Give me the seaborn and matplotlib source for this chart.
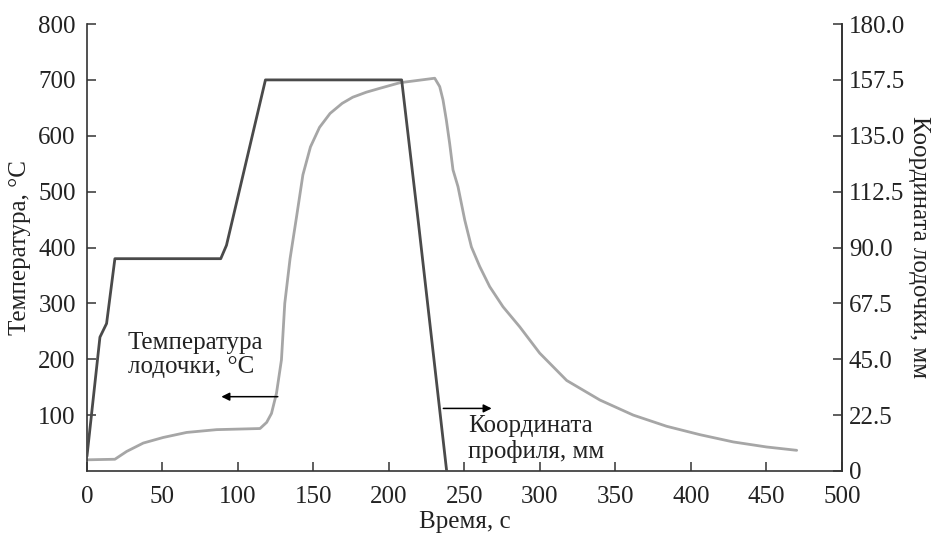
import numpy as np
import pandas as pd
import matplotlib
matplotlib.use("Agg")
import matplotlib.pyplot as plt
import seaborn as sns
from matplotlib.ticker import FuncFormatter

# Temperature of the boat (left axis, °C)
temp_t = [0, 18.5, 26.3, 37.3, 50.5, 66, 85.9, 114.6, 119, 122.2, 125.5, 128.8, 131,
          134.5, 138.8, 143, 148, 154, 161, 169, 176, 185, 194, 207.3, 230.3, 233.6,
          235.8, 238, 240.2, 242.4, 245.7, 250.2, 254.6, 260.1, 266.7, 275.5, 286.6,
          299.8, 317.7, 339.7, 361.8, 383.9, 405.9, 428, 450, 470]
temp_v = [20, 21, 35, 50, 60, 69, 74, 76, 87, 103, 139, 199, 300,
          380, 455, 530, 580, 615, 640, 658, 669, 678, 685, 695, 703, 688,
          664, 628, 586, 539, 509, 449, 401, 366, 330, 294, 258,
          211, 162, 127, 100, 80, 65, 52, 43, 37]

# Boat coordinate (right axis, mm)
coord_t = [0, 8.6, 13, 18.5, 88.6, 92.4, 118.2, 208.4, 219.5, 238.2]
coord_v = [5.9, 53.9, 59.4, 85.5, 85.5, 90.9, 157.5, 157.5, 100, 0]

x_ticks = [0, 50, 100, 150, 200, 250, 300, 350, 400, 450, 500]
left_ticks = [100, 200, 300, 400, 500, 600, 700, 800]
right_ticks = [0, 22.5, 45.0, 67.5, 90.0, 112.5, 135.0, 157.5, 180.0]

temp_df = pd.DataFrame({"t": temp_t, "T": temp_v})
coord_df = pd.DataFrame({"t": coord_t, "mm": coord_v})

sns.set_theme(style="ticks")
plt.rcParams["font.family"] = ["Liberation Serif", "DejaVu Serif"]

fig = plt.figure(figsize=(9.37, 5.34), dpi=100)
ax = fig.add_axes([0.0928, 0.118, 0.8058, 0.837])
ax2 = ax.twinx()

sns.lineplot(data=temp_df, x="t", y="T", ax=ax, color="#a6a6a6", lw=2.0,
             sort=False, estimator=None)
sns.lineplot(data=coord_df, x="t", y="mm", ax=ax2, color="#4a4a4a", lw=2.0,
             sort=False, estimator=None)

ax.set_xlim(0, 500)
ax.set_ylim(0, 800)
ax2.set_ylim(0, 180)
ax.set_xticks(x_ticks)
ax.set_yticks(left_ticks)
ax2.set_yticks(right_ticks)
ax2.yaxis.set_major_formatter(FuncFormatter(lambda v, p: "0" if v == 0 else f"{v:.1f}"))

fs = 18
for a in (ax, ax2):
    a.spines["top"].set_visible(False)
    for s in a.spines.values():
        s.set_color("#333333")
        s.set_linewidth(1.2)
    a.tick_params(direction="in", length=6.5, width=1.1, color="#333333",
                  labelsize=fs, labelcolor="#222222")
ax.tick_params(axis="y", pad=8)
ax.tick_params(axis="x", pad=11)
ax2.tick_params(axis="y", pad=5)
ax2.spines["left"].set_visible(False)
ax2.spines["bottom"].set_visible(False)

ax.set_xlabel("Время, с", fontsize=fs, color="#222222", labelpad=2)
ax.set_ylabel("Температура, °С", fontsize=fs, color="#222222", labelpad=5)
ax2.set_ylabel("Координата лодочки, мм", fontsize=fs, color="#222222",
               rotation=270, labelpad=18)

ax.text(27.1, 249, "Температура\nлодочки, °С", fontsize=fs, color="#222222",
        ha="left", va="top", linespacing=1.15)
ax.annotate("", xy=(89, 133), xytext=(126.4, 133),
            arrowprops=dict(arrowstyle="-|>", color="black", lw=1.1, mutation_scale=12,
                            shrinkA=0, shrinkB=0))
ax.text(252.2, 100, "Координата\nпрофиля, мм", fontsize=fs, color="#222222",
        ha="left", va="top", linespacing=1.15)
ax.annotate("", xy=(268, 112), xytext=(236, 112),
            arrowprops=dict(arrowstyle="-|>", color="black", lw=1.1, mutation_scale=12,
                            shrinkA=0, shrinkB=0))

fig.savefig("out.png", dpi=100)
